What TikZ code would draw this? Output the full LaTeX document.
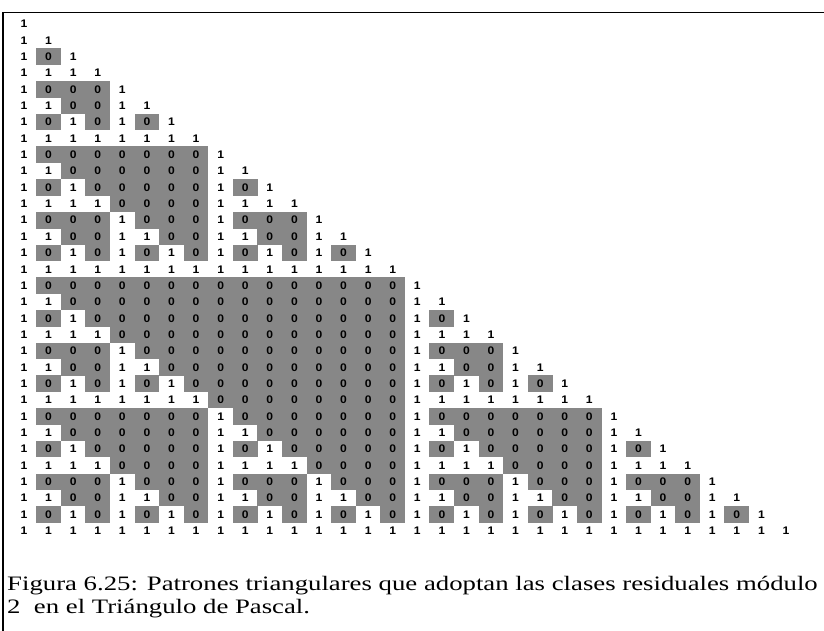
\documentclass[tikz,border=0pt]{standalone}
\usepackage{fontspec}
\setmainfont{Liberation Serif}
\newfontfamily\digitfont{Liberation Sans}
\usepackage{graphicx}
\definecolor{cellgray}{RGB}{135,135,135}
\begin{document}
\begin{tikzpicture}[x=1pt,y=-1pt,
  cell/.style={minimum width=24.8pt, minimum height=16.6pt, inner sep=0pt,
    font=\digitfont\bfseries\fontsize{11}{11}\selectfont},
  zerocell/.style={cell, fill=cellgray},
  frameline/.style={line width=1.8pt},
  captext/.style={anchor=base west, inner sep=0pt, font=\fontsize{20.5}{23}\selectfont}]
\useasboundingbox (0,0) rectangle (824,631);
\foreach \n in {0,...,31}{
  \foreach \k in {0,...,\n}{
    \ifnum\k=0 \gdef\pbval{1}\else\ifnum\k=\n \gdef\pbval{1}\else
      \ifnum\csname pb\the\numexpr\n-1\relax-\the\numexpr\k-1\relax\endcsname=\csname pb\the\numexpr\n-1\relax-\k\endcsname\relax
        \gdef\pbval{0}\else\gdef\pbval{1}\fi
    \fi\fi
    \expandafter\xdef\csname pb\n-\k\endcsname{\pbval}
    \ifnum\pbval=0
      \node[zerocell] (c\n-\k) at ({24+24.58*\k},{24+16.35*\n}) {\scalebox{1.1}[1]{0}};
    \else
      \node[cell] (c\n-\k) at ({24+24.58*\k},{24+16.35*\n}) {\scalebox{1.1}[1]{1}};
    \fi
  }
}
\draw[frameline] (3.3,631) -- (3.3,12.5) -- (824,12.5);
\node[captext] (cap1) at (7,590.5) {\scalebox{1.305}[1]{Figura 6.25: Patrones triangulares que adoptan las clases residuales módulo}};
\node[captext] (cap2) at (7,613) {\scalebox{1.305}[1]{2~ en el Triángulo de Pascal.}};
\end{tikzpicture}
\end{document}
